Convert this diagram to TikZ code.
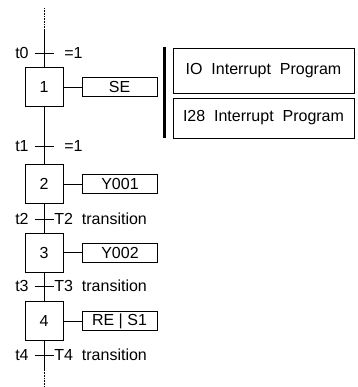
\documentclass[tikz,border=0pt]{standalone}
\usepackage{fontspec}
\setmainfont{Liberation Sans}
\usetikzlibrary{positioning,calc}

\begin{document}
\begin{tikzpicture}[
    x=1pt, y=1pt,
    font=\fontsize{16}{19}\selectfont,
    line width=0.8pt,
    stepbox/.style={draw, minimum width=38pt, minimum height=39pt, inner sep=0pt},
    actbox/.style={draw, minimum width=75pt, minimum height=19pt, inner sep=0pt},
    progbox/.style={draw, minimum width=181pt, minimum height=#1, inner sep=0pt},
    progbox/.default=40pt,
    lbl/.style={inner sep=0pt},
    dots/.style={dash pattern=on 0.8pt off 0.8pt},
  ]
  \useasboundingbox (0,0) rectangle (357,-387);

  % steps
  \node[stepbox] (s1) at (44,-87) {1};
  \node[stepbox] (s2) at (44,-184) {2};
  \node[stepbox] (s3) at (44,-252.5) {3};
  \node[stepbox] (s4) at (44,-321) {4};

  % actions
  \node[actbox] (a1) at (119.5,-87) {SE};
  \node[actbox] (a2) at (120,-184) {Y001};
  \node[actbox] (a3) at (120,-252.5) {Y002};
  \node[actbox] (a4) at (119.5,-321) {RE | S1};
  \foreach \i in {1,...,4}
    \draw (s\i.east) -- (a\i.west);

  % interrupt programs
  \node[progbox=45pt] (io) at (263.5,-70.5) {IO\ \ Interrupt\ \ Program};
  \node[progbox] (i28) at (263.5,-118) {I28\ \ Interrupt\ \ Program};
  \draw[line width=3pt] ($(io.north west)+(-8,1)$) -- ($(i28.south west)+(-8,0)$);

  % main line
  \coordinate (top) at (44,-8);
  \coordinate (ctop) at (44,-31);
  \coordinate (cbot) at (44,-370);
  \coordinate (bot) at (44,-387);
  \draw[dots] (top) -- (ctop);
  \draw (ctop) -- (s1.north);
  \draw (s1.south) -- (s2.north);
  \draw (s2.south) -- (s3.north);
  \draw (s3.south) -- (s4.north);
  \draw (s4.south) -- (cbot);
  \draw[dots] (cbot) -- (bot);

  % transitions
  \foreach \t/\y in {0/-53, 1/-146, 2/-219, 3/-286, 4/-355} {
    \coordinate (t\t) at (44,\y);
    \draw ([xshift=-9.5pt]t\t) -- ([xshift=9.5pt]t\t);
    \node[lbl, anchor=east] (tl\t) at ([xshift=-15pt]t\t) {t\t};
  }
  \node[lbl, anchor=west] (c0) at ([xshift=20pt]t0) {=1};
  \node[lbl, anchor=west] (c1) at ([xshift=20pt]t1) {=1};
  \node[lbl, anchor=west] (c2) at ([xshift=10pt]t2) {T2\ \ transition};
  \node[lbl, anchor=west] (c3) at ([xshift=10pt]t3) {T3\ \ transition};
  \node[lbl, anchor=west] (c4) at ([xshift=10pt]t4) {T4\ \ transition};
\end{tikzpicture}
\end{document}
